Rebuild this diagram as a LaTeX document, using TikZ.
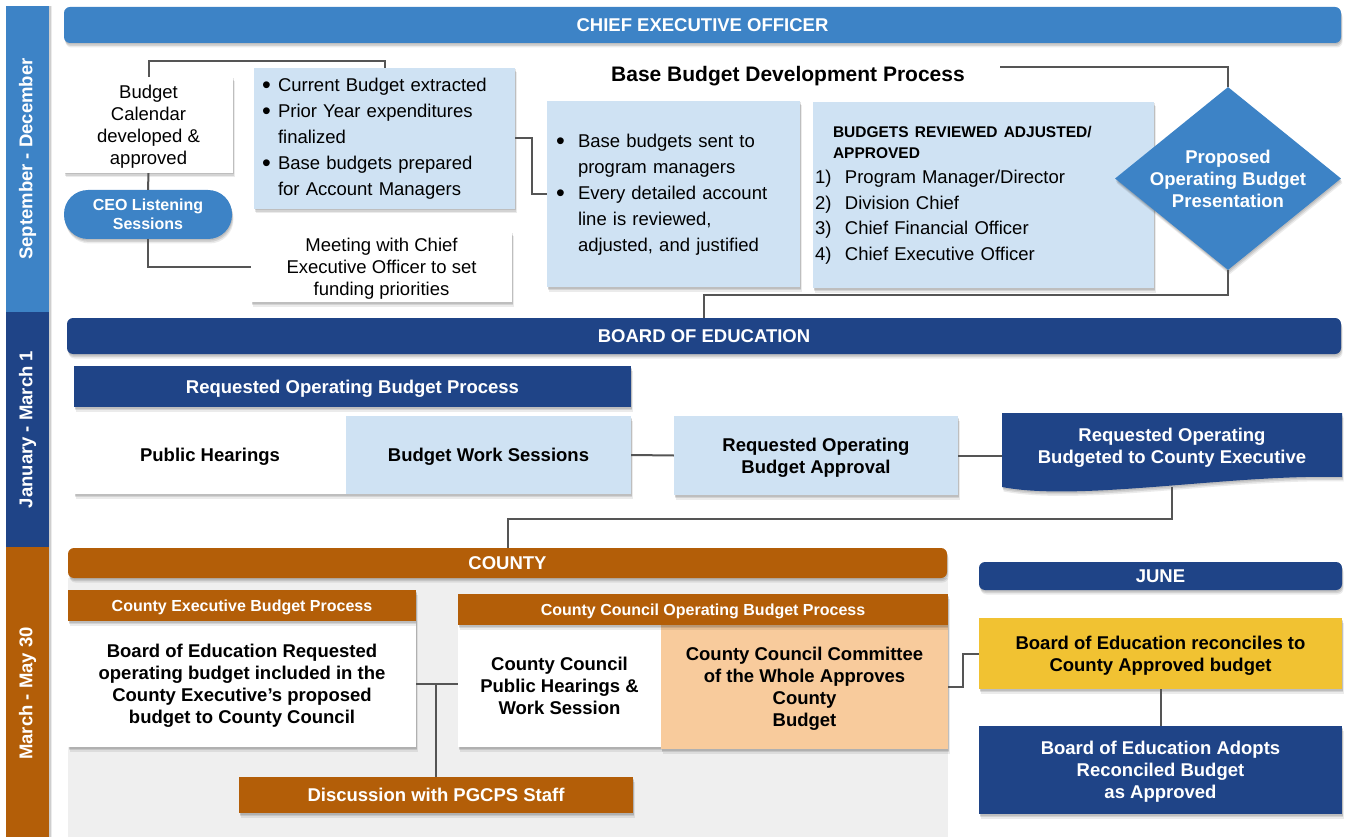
\documentclass[tikz,border=0pt]{standalone}
\usepackage{fontspec}
\setmainfont{Liberation Sans}
\usetikzlibrary{shapes.geometric,shadows}
\definecolor{midblue}{RGB}{61,131,198}
\definecolor{navy}{RGB}{31,68,135}
\definecolor{rust}{RGB}{179,94,8}
\definecolor{lblue}{RGB}{207,226,243}
\definecolor{peach}{RGB}{248,203,156}
\definecolor{gold}{RGB}{241,194,50}
\definecolor{bggray}{RGB}{239,239,239}
\definecolor{linegray}{RGB}{85,85,85}
\newcommand{\bul}[1]{\makebox[#1][l]{\hspace{-2pt}\raisebox{-2pt}{\fontsize{25}{25}\selectfont •}}}
\begin{document}
\begin{tikzpicture}[x=1pt,y=-1pt,
  lbx/.style={inner sep=0pt, align=center, font=\fontsize{18.5}{22}\selectfont},
  bx/.style={lbx, text depth=0pt},
  bf/.style={font=\bfseries\fontsize{18.5}{22}\selectfont},
  bfs/.style={font=\bfseries\fontsize{16}{19}\selectfont},
  shd/.style={drop shadow={shadow xshift=0.5pt,shadow yshift=-1.5pt,opacity=0.10,fill=black},
              drop shadow={shadow xshift=1pt,shadow yshift=-3pt,opacity=0.10,fill=black},
              drop shadow={shadow xshift=1.5pt,shadow yshift=-4.5pt,opacity=0.08,fill=black}},
  sidebar/.style={minimum width=43, inner sep=0pt,
              drop shadow={shadow xshift=1.5pt,shadow yshift=0pt,opacity=0.12,fill=black},
              drop shadow={shadow xshift=3pt,shadow yshift=0pt,opacity=0.08,fill=black}},
  sidelbl/.style={rotate=90, text=white, font=\bfseries\fontsize{18.5}{22}\selectfont},
  bar/.style={bx, bf, text=white, rounded corners=6pt, shd},
  conn/.style={draw=linegray, line width=2pt}
]
\useasboundingbox (0,0) rectangle (1347,837);
\fill[bggray] (68,578) rectangle (948,837);

% side bars
\node[sidebar, fill=midblue, minimum height=306] (sb1) at (27.5,159) {};
\node[sidebar, fill=navy, minimum height=235] (sb2) at (27.5,429.5) {};
\node[sidebar, fill=rust, minimum height=293] (sb3) at (27.5,693.5) {};
\node[sidelbl] (sl1) at (sb1) {September - December};
\node[sidelbl] (sl2) at (sb2) {January - March 1};
\node[sidelbl] (sl3) at (sb3) {March - May 30};

% CEO section
\node[bar, fill=midblue, minimum width=1277, minimum height=36] (ceo) at (702.5,25) {CHIEF EXECUTIVE OFFICER};
\node[bx, fill=white, shd, minimum width=169, minimum height=96] (cal) at (148.5,125) {Budget\\Calendar\\developed \&\\approved};
\node[lbx, fill=lblue, shd, minimum width=261, minimum height=141, inner xsep=10pt, text width=241, align=left, font=\fontsize{18.5}{26}\selectfont] (cur) at (384.5,138.5) {%
\begin{tabular}{@{}l@{}}
\bul{14pt}Current Budget extracted\\
\bul{14pt}Prior Year expenditures\\
\makebox[14pt][l]{}finalized\\
\bul{14pt}Base budgets prepared\\
\makebox[14pt][l]{}for Account Managers
\end{tabular}};
\node[bx, bfs, fill=midblue, text=white, rounded corners=24pt, shd, minimum width=168, minimum height=49] (pill) at (148,214.5) {CEO Listening\\Sessions};
\node[bx, fill=white, shd, minimum width=261, minimum height=70] (meet) at (381.5,267) {Meeting with Chief\\Executive Officer to set\\funding priorities};
\node[font=\bfseries\fontsize{21}{25}\selectfont, inner sep=0pt, text depth=0pt] (title) at (788,74) {Base Budget Development Process};
\node[lbx, fill=lblue, shd, minimum width=253, minimum height=186, inner xsep=11pt, text width=231, align=left, font=\fontsize{18.5}{26}\selectfont] (sent) at (673.5,194) {%
\begin{tabular}{@{}l@{}}
\bul{20pt}Base budgets sent to\\
\makebox[20pt][l]{}program managers\\
\bul{20pt}Every detailed account\\
\makebox[20pt][l]{}line is reviewed,\\
\makebox[20pt][l]{}adjusted, and justified
\end{tabular}};
\node[lbx, fill=lblue, shd, minimum width=341, minimum height=186, inner xsep=2pt, text width=337, align=left] (rev) at (983.5,195) {%
{\bfseries\fontsize{15.5}{21}\selectfont\hspace*{18pt}BUDGETS REVIEWED ADJUSTED/\\\hspace*{18pt}APPROVED\par}%
{\fontsize{18.5}{25.5}\selectfont\makebox[30pt][l]{1)}Program Manager/Director\\\makebox[30pt][l]{2)}Division Chief\\\makebox[30pt][l]{3)}Chief Financial Officer\\\makebox[30pt][l]{4)}Chief Executive Officer\par}};
\node[diamond, fill=midblue, shd, minimum width=226, minimum height=183, inner sep=0pt] (dia) at (1228,178.5) {};
\node[bx, bf, text=white] (diat) at (1228,178.5) {Proposed\\Operating Budget\\Presentation};

% Board of Education section
\node[bar, fill=navy, minimum width=1274, minimum height=36] (boe) at (704,336) {BOARD OF EDUCATION};
\node[bx, bf, fill=navy, text=white, shd, minimum width=557, minimum height=41] (rop) at (352.5,386.5) {Requested Operating Budget Process};
\node[bx, bf, fill=white, shd, minimum width=272, minimum height=78] (ph) at (210,455) {Public Hearings};
\node[bx, bf, fill=lblue, shd, minimum width=285, minimum height=78] (bws) at (488.5,455) {Budget Work Sessions};
\node[bx, bf, fill=lblue, shd, minimum width=284, minimum height=79] (roba) at (816,455.5) {Requested Operating\\Budget Approval};
\fill[navy, shd] (1002,413) -- (1342,413) -- (1342,477) .. controls (1230,474) and (1080,502) .. (1002,487) -- cycle;
\node[bx, bf, text=white, minimum width=340, minimum height=64] (doc) at (1172,446) {Requested Operating\\Budgeted to County Executive};
\coordinate (docb) at (1172,487);

% County section
\node[bar, fill=rust, minimum width=879, minimum height=30] (county) at (507.5,563) {COUNTY};
\node[bx, bf, fill=white, shd, minimum width=348, minimum height=126] (boer) at (242,684) {Board of Education Requested\\operating budget included in the\\County Executive’s proposed\\budget to County Council};
\node[bx, bfs, fill=rust, text=white, shd, minimum width=348, minimum height=31] (ceh) at (242,605.5) {County Executive Budget Process};
\node[bx, bf, fill=white, shd, minimum width=203, minimum height=122] (ccph) at (559.5,686) {County Council\\Public Hearings \&\\Work Session};
\node[bx, bf, fill=peach, shd, minimum width=287, minimum height=124] (ccc) at (804.5,687) {County Council Committee\\of the Whole Approves\\County\\Budget};
\node[bx, bfs, fill=rust, text=white, shd, minimum width=490, minimum height=31] (cch) at (703,609.5) {County Council Operating Budget Process};
\node[bx, bf, fill=rust, text=white, shd, minimum width=394, minimum height=36] (disc) at (436,795) {Discussion with PGCPS Staff};

% June section
\node[bar, fill=navy, minimum width=363, minimum height=28] (june) at (1160.5,576) {JUNE};
\node[bx, bf, fill=gold, shd, minimum width=363, minimum height=71] (yel) at (1160.5,653.5) {Board of Education reconciles to\\County Approved budget};
\node[bx, bf, fill=navy, text=white, shd, minimum width=363, minimum height=88] (adopt) at (1160.5,770) {Board of Education Adopts\\Reconciled Budget\\as Approved};

% connectors
\draw[conn] (cal.north) -- ++(0,-16) -| (cur.north);
\draw[conn] (cal.south) -- (pill.north);
\draw[conn] (pill.south) |- (meet.west);
\draw[conn] (cur.east) -- ++(17,0) |- (sent.west);
\coordinate (tl) at (1000,67);
\draw[conn] (tl) -| (dia.north);
\draw[conn] (dia.south) -- ++(0,25) -| (boe.north);
\draw[conn] (bws.east) -- (roba.west);
\draw[conn] (roba.east) -- (roba.east -| doc.west);
\draw[conn] (docb) -- ++(0,32) -| (county.north);
\draw[conn] (boer.east) -- (boer.east -| ccph.west);
\draw[conn] (disc.north) -- (disc.north |- boer.east);
\draw[conn] (ccc.east) -- ++(15,0) |- (yel.west);
\draw[conn] (yel.south) -- (adopt.north);
\end{tikzpicture}
\end{document}
